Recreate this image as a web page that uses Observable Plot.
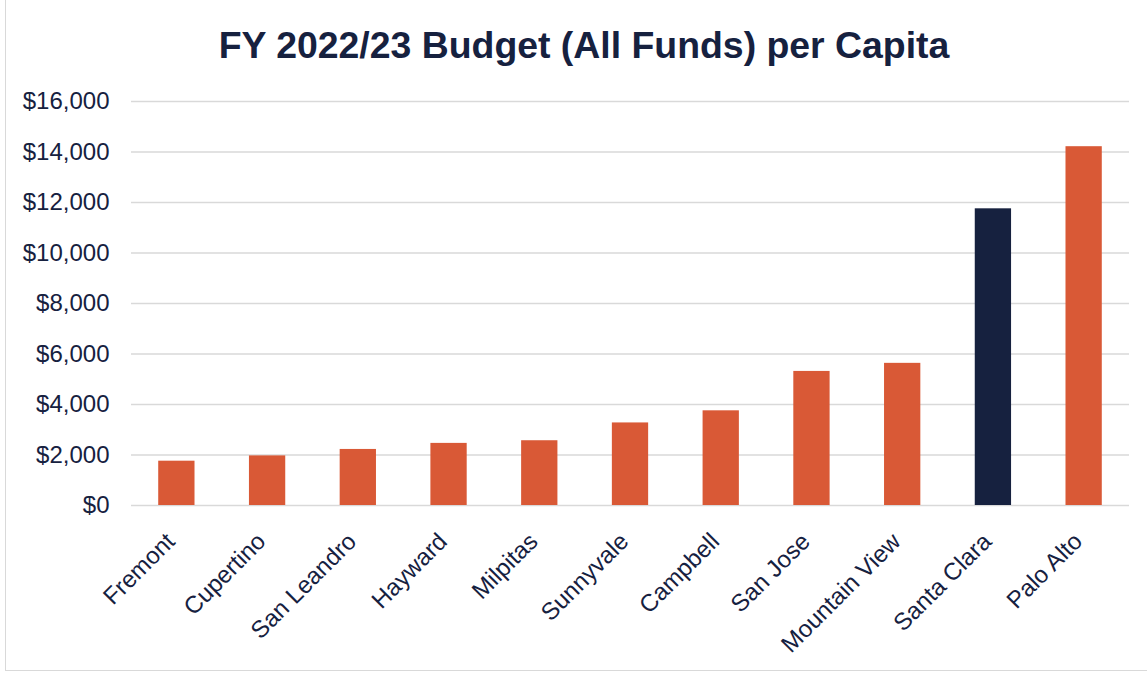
<!DOCTYPE html>
<html><head><meta charset="utf-8">
<script src="https://cdn.jsdelivr.net/npm/d3@7"></script>
<script src="https://cdn.jsdelivr.net/npm/@observablehq/plot@0.6"></script>
<style>
body{margin:0;background:#fff;font-family:"Liberation Sans",Arial,sans-serif;}
#wrap{position:relative;width:1147px;height:673px;overflow:hidden;}
#frame{position:absolute;left:5px;top:-2px;width:1160px;height:673px;border:1px solid #d9d9d9;box-sizing:border-box;}
#title{position:absolute;left:0;width:1168px;top:23px;text-align:center;font-weight:bold;font-size:37.4px;line-height:44px;color:#16213f;}
#chart{position:absolute;left:0;top:0;}
</style></head>
<body><div id="wrap"><div id="frame"></div><div id="chart"></div><div id="title">FY 2022/23 Budget (All Funds) per Capita</div></div>
<script>
const cities = ["Fremont","Cupertino","San Leandro","Hayward","Milpitas","Sunnyvale","Campbell","San Jose","Mountain View","Santa Clara","Palo Alto"];
const budgetPerCapita = [1755,1965,2220,2460,2565,3270,3750,5310,5630,11750,14210];
const highlightCity = "Santa Clara";
const yTicks = [0,2000,4000,6000,8000,10000,12000,14000,16000];

const orange = "#d95936";
const navy = "#16213f";
const textColor = "#16213f";

const data = cities.map((c,i)=>({city:c, value:budgetPerCapita[i], group: c===highlightCity ? "highlight" : "other"}));

const chart = Plot.plot({
  width:1147, height:673,
  marginTop:101, marginBottom:168, marginLeft:131, marginRight:18,
  x:{domain:cities, paddingInner:0.6, paddingOuter:0.3, round:false, label:null},
  y:{domain:[0,16000], label:null},
  color:{domain:["other","highlight"], range:[orange,navy]},
  style:{fontFamily:'"Liberation Sans", Arial, sans-serif', fontSize:"24px", color:textColor, background:"transparent"},
  marks:[
    Plot.gridY(yTicks,{stroke:"#d9d9d9", strokeOpacity:1, strokeWidth:1.5}),
    Plot.axisY(yTicks,{tickSize:0, tickPadding:22, tickFormat:d=>"$"+d3.format(",")(d), fontSize:24, label:null}),
    Plot.barY(data,{x:"city", y:"value", fill:"group"}),
    Plot.axisX({tickSize:0, tickRotate:-45, tickPadding:32, dx:-6, fontSize:24, label:null})
  ]
});
document.getElementById("chart").appendChild(chart);
</script>
</body></html>
